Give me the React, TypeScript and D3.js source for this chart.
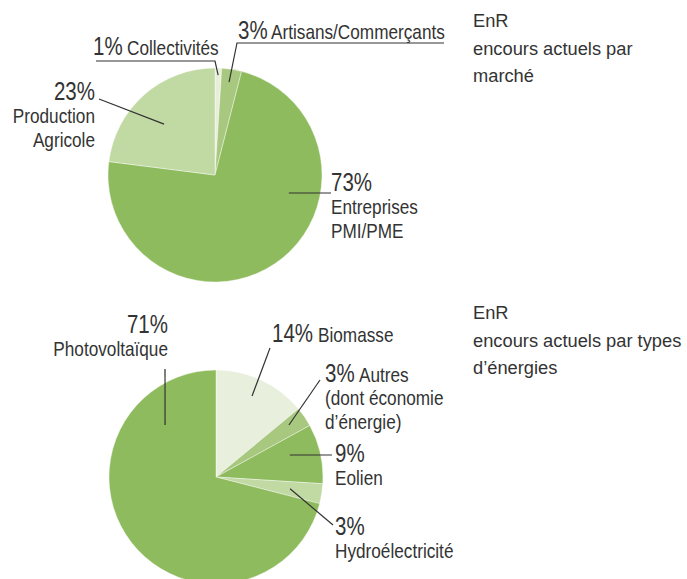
import React from 'react';
import * as d3 from 'd3';

// --- data ---
const marcheLabels = ['Collectivités', 'Artisans/Commerçants', 'Entreprises PMI/PME', 'Production Agricole'];
const marcheValues = [1, 3, 73, 23];
const marcheColors = ['#e7efdb', '#a8c880', '#8fbb5f', '#c1d9a3'];

const energieLabels = ['Biomasse', "Autres (dont économie d'énergie)", 'Eolien', 'Hydroélectricité', 'Photovoltaïque'];
const energieValues = [14, 3, 9, 3, 71];
const energieColors = ['#e8f0dd', '#a8c880', '#8fbb5f', '#c1d9a3', '#8fbb5f'];

const marcheTitle = ['EnR', 'encours actuels par', 'marché'];
const energieTitle = ['EnR', 'encours actuels par types', 'd’énergies'];

const WIDTH = 687;
const HEIGHT = 579;
const R = 107;
const TXT = '#333333';
const FONT = "'Liberation Sans', Arial, sans-serif";
const NARROW_PCT = 0.82; // condensed look for percentages
const NARROW_NAME = 0.86; // condensed look for slice names

// label layout: anchor inside slice (angle in deg clockwise from top, radius), leader path, text block
type LabelLayout = {
  anchor: [number, number];
  path: [number, number][];
  x: number;
  y: number;
  align: 'start' | 'end';
  nameX?: number; // when set, the first name line sits on the percent line at this x
  lines: string[];
};

const marcheLayout: LabelLayout[] = [
  { anchor: [1.8, 100], path: [[215, 61], [96, 61]], x: 93, y: 55, align: 'start', nameX: 127, lines: ['Collectivités'] },
  { anchor: [8.6, 94], path: [[237, 43], [444, 43]], x: 238, y: 39, align: 'start', nameX: 271, lines: ['Artisans/Commerçants'] },
  { anchor: [103.7, 76], path: [[331, 193]], x: 331, y: 191, align: 'start', lines: ['Entreprises', 'PMI/PME'] },
  { anchor: [315, 72], path: [[99, 99]], x: 95, y: 100, align: 'end', lines: ['Production', 'Agricole'] },
];

const energieLayout: LabelLayout[] = [
  { anchor: [24, 88.6], path: [[270, 348]], x: 272, y: 342, align: 'start', nameX: 318, lines: ['Biomasse'] },
  { anchor: [54.5, 89.6], path: [[320, 380]], x: 325, y: 382, align: 'start', nameX: 359, lines: ['Autres', '(dont économie', 'd’énergie)'] },
  { anchor: [73.4, 77], path: [[332, 455]], x: 335, y: 462, align: 'start', lines: ['Eolien'] },
  { anchor: [99, 75], path: [[333, 525]], x: 335, y: 535, align: 'start', lines: ['Hydroélectricité'] },
  { anchor: [315.6, 72.8], path: [[165, 369]], x: 168, y: 333, align: 'end', lines: ['Photovoltaïque'] },
];

const pieGen = d3.pie<number>().sort(null).value((d) => d);
const arcGen = d3.arc<d3.PieArcDatum<number>>().innerRadius(0).outerRadius(R);

function polar(cx: number, cy: number, deg: number, r: number): [number, number] {
  const a = (deg * Math.PI) / 180;
  return [cx + r * Math.sin(a), cy - r * Math.cos(a)];
}

function Label({ lay, pct, cx, cy }: { lay: LabelLayout; pct: number; cx: number; cy: number }) {
  const start = polar(cx, cy, lay.anchor[0], lay.anchor[1]);
  const line = d3.line()([start, ...lay.path]) || '';
  const inline = lay.nameX !== undefined;
  const rest = lay.lines.slice(inline ? 1 : 0);
  return (
    <g fill={TXT} fontFamily={FONT}>
      <path d={line} fill="none" stroke={TXT} strokeWidth={1.2} />
      <g transform={`translate(${lay.x},${lay.y}) scale(${NARROW_PCT},1)`}>
        <text x={0} y={0} textAnchor={lay.align} fontSize={25}>{pct}%</text>
      </g>
      {inline ? (
        <g transform={`translate(${lay.nameX},${lay.y}) scale(${NARROW_NAME},1)`}>
          <text x={0} y={0} fontSize={20}>{lay.lines[0]}</text>
        </g>
      ) : null}
      <g transform={`translate(${lay.x},${lay.y}) scale(${NARROW_NAME},1)`}>
        {rest.map((l, i) => (
          <text key={i} x={0} y={23.5 * (i + 1)} textAnchor={lay.align} fontSize={20}>
            {l}
          </text>
        ))}
      </g>
    </g>
  );
}

function Pie({ values, colors, layout, cx, cy, title, ty }: {
  values: number[]; colors: string[]; layout: LabelLayout[]; cx: number; cy: number; title: string[]; ty: number;
}) {
  const arcs = pieGen(values);
  return (
    <g>
      <g transform={`translate(${cx},${cy})`}>
        {arcs.map((a, i) => (
          <path key={i} d={arcGen(a) || ''} fill={colors[i]} stroke="#ffffff" strokeWidth={0.4} />
        ))}
      </g>
      {layout.map((lay, i) => (
        <Label key={i} lay={lay} pct={values[i]} cx={cx} cy={cy} />
      ))}
      {title.map((t, i) => (
        <text key={i} x={473} y={ty + 27.7 * i} fill={TXT} fontFamily={FONT} fontSize={18.3}>
          {t}
        </text>
      ))}
    </g>
  );
}

export default function App() {
  return (
    <div style={{ position: 'absolute', left: 0, top: 0 }}>
      <svg width={WIDTH} height={HEIGHT} style={{ display: 'block', background: '#ffffff' }}>
        <Pie values={marcheValues} colors={marcheColors} layout={marcheLayout} cx={215} cy={175} title={marcheTitle} ty={27} />
        <Pie values={energieValues} colors={energieColors} layout={energieLayout} cx={216} cy={477} title={energieTitle} ty={319} />
      </svg>
    </div>
  );
}
